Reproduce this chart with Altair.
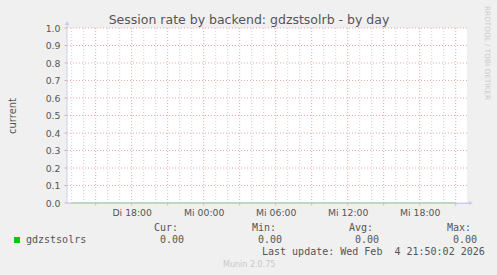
import altair as alt
import pandas as pd

# ---- data (hours since Tue "Di" 00:00) ----
title_text = "Session rate by backend: gdzstsolrb - by day"
x_domain = [12.61, 45.94]
minor_hours = [13, 14, 16, 17, 19, 20, 22, 23, 25, 26, 28, 29, 31, 32, 34, 35, 37, 38, 40, 41, 43, 44]
major_hours = [15, 18, 21, 24, 27, 30, 33, 36, 39, 42, 45]
label_hours = [18, 24, 30, 36, 42]
label_texts = ["Di 18:00", "Mi 00:00", "Mi 06:00", "Mi 12:00", "Mi 18:00"]
y_ticks = [0.0, 0.1, 0.2, 0.3, 0.4, 0.5, 0.6, 0.7, 0.8, 0.9, 1.0]
y_grid = [0.1, 0.2, 0.3, 0.4, 0.5, 0.6, 0.7, 0.8, 0.9, 1.0]
series_name = "gdzstsolrs"
series_hours = [13, 17, 21, 25, 29, 33, 37, 41, 45]
series_values = [0.0, 0.0, 0.0, 0.0, 0.0, 0.0, 0.0, 0.0, 0.0]
stat_heads = ["Cur:", "Min:", "Avg:", "Max:"]
stat_values = ["0.00", "0.00", "0.00", "0.00"]
last_update = "Last update: Wed Feb \u00a04 21:50:02 2026"
footer = "Munin 2.0.75"
side_text = "RRDTOOL / TOBI OETIKER"

W, H = 400, 175
SANS = "DejaVu Sans"
MONO = "DejaVu Sans Mono"
TXT = "#555555"
MGRID = "#E8A8A8"
GRID = "#CFCFCF"
AXIS = "#C8CCF4"

xscale = alt.Scale(domain=x_domain, nice=False, zero=False)
yscale = alt.Scale(domain=[0, 1], nice=False)

label_expr = "".join(
    f"datum.value == {h} ? '{t}' : " for h, t in zip(label_hours, label_texts)
) + "''"

xaxis = alt.Axis(values=label_hours, labelExpr=label_expr, grid=False, domain=False,
                 ticks=False, labelPadding=5, labelFontSize=9.3, labelFont=SANS,
                 labelColor=TXT, title=None, labelFlush=False)
yaxis = alt.Axis(values=y_ticks, format=".1f", grid=False, domain=False, ticks=False,
                 labelPadding=7, labelFontSize=9.3, labelFont=SANS, labelColor=TXT,
                 title="current", titleFont=SANS, titleFontSize=10,
                 titleFontWeight="normal", titleColor=TXT, titleAngle=-90,
                 titleX=-52, titleY=H / 2, titleBaseline="alphabetic",
                 titleAlign="center")


def X(field):
    return alt.X(field, scale=xscale, axis=xaxis)


def Y(field):
    return alt.Y(field, scale=yscale, axis=yaxis)


minor_df = pd.DataFrame({"h": minor_hours})
major_df = pd.DataFrame({"h": major_hours})
yg_df = pd.DataFrame({"v": y_grid})
yt_df = pd.DataFrame({"v": y_ticks})
ser_df = pd.DataFrame({"h": series_hours, "v": series_values})
one = pd.DataFrame({"a": [0]})

minor = alt.Chart(minor_df).mark_rule(color=GRID, strokeDash=[1, 2], strokeWidth=1).encode(
    x=X("h:Q")
)
major = alt.Chart(major_df).mark_rule(color=MGRID, strokeDash=[1, 2], strokeWidth=1).encode(
    x=X("h:Q")
)
major_ticks = alt.Chart(major_df).mark_rule(color=MGRID, strokeWidth=1).encode(
    x=X("h:Q"), y=alt.value(H), y2=alt.value(H + 2.5)
)
hgrid = alt.Chart(yg_df).mark_rule(color=MGRID, strokeDash=[1, 2], strokeWidth=1).encode(
    y=Y("v:Q")
)
yticks = alt.Chart(yt_df).mark_rule(color=MGRID, strokeWidth=1).encode(
    y=Y("v:Q"), x=alt.value(-2.5), x2=alt.value(0)
)
series = alt.Chart(ser_df).mark_line(color="#00CC00", strokeWidth=0.8).encode(
    x=X("h:Q"), y=Y("v:Q")
)
xaxis_line = alt.Chart(one).mark_rule(color=AXIS, strokeWidth=1.6).encode(
    x=alt.value(0), x2=alt.value(W + 4), y=alt.value(H + 0.2)
)
yaxis_line = alt.Chart(one).mark_rule(color=AXIS, strokeWidth=1).encode(
    x=alt.value(0), y=alt.value(-5), y2=alt.value(H)
)
x_arrow = alt.Chart(one).mark_point(shape="triangle-right", filled=True, color=AXIS, size=22, opacity=1).encode(
    x=alt.value(W + 4), y=alt.value(H)
)
y_arrow = alt.Chart(one).mark_point(shape="triangle-up", filled=True, color=AXIS, size=22, opacity=1).encode(
    x=alt.value(0), y=alt.value(-5)
)


def txt(text, x, y, font=SANS, size=10, color=TXT, align="left", angle=0, baseline="alphabetic"):
    return alt.Chart(one).mark_text(text=text, font=font, fontSize=size, color=color,
                                    align=align, baseline=baseline, angle=angle).encode(
        x=alt.value(x), y=alt.value(y))


OX, OY = 67, 28
texts = [
    txt(title_text, 249 - OX, 23.5 - OY, size=12.5, align="center"),
    txt(side_text, 485 - OX, 6 - OY, size=7.3, color="#CCCCCC", angle=90),
    txt(series_name, 26 - OX, 243 - OY, font=MONO),
    txt(last_update, 262 - OX, 254.5 - OY, font=MONO),
    txt(footer, 223 - OX, 267 - OY, size=8, color="#C8C8C8"),
]
for head, val, hx, vx in zip(stat_heads, stat_values, [154, 252, 349, 447], [160, 258, 355, 453]):
    texts.append(txt(head, hx - OX, 231 - OY, font=MONO))
    texts.append(txt(val, vx - OX, 243 - OY, font=MONO))

swatch = alt.Chart(one).mark_rect(color="#00CC00").encode(
    x=alt.value(14 - OX), x2=alt.value(20 - OX), y=alt.value(237 - OY), y2=alt.value(243 - OY)
)

chart = alt.layer(
    minor, major, hgrid, major_ticks, yticks, series, xaxis_line, yaxis_line, x_arrow, y_arrow,
    swatch, *texts
).properties(
    width=W, height=H,
    autosize=alt.AutoSizeParams(type="none"),
    padding={"left": OX, "top": OY, "right": 497 - OX - W, "bottom": 275 - OY - H},
    background="#F0F0F0",
).configure_view(fill="white", stroke=None)

chart.save("out.html", embed_options={"renderer": "svg", "actions": False})
